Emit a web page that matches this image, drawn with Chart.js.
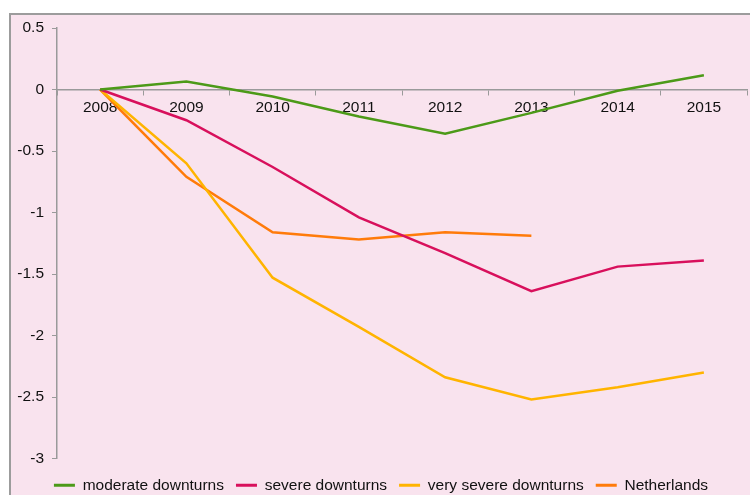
<!DOCTYPE html>
<html>
<head>
<meta charset="utf-8">
<script src="https://cdn.jsdelivr.net/npm/chart.js@4.4.1/dist/chart.umd.min.js"></script>
<style>
    html, body { margin: 0; padding: 0; background: #fff; }
    #frame {
        position: absolute; left: 9px; top: 13px; width: 760px; height: 500px;
        background: #f9e3ee; border-left: 2px solid #9c9c9c; border-top: 2px solid #9c9c9c;
        box-sizing: border-box;
    }
    #wrap { position: absolute; left: 0; top: 0; width: 750px; height: 495px; }
</style>
</head>
<body>
<div id="frame"></div>
<div id="wrap"><canvas id="chart"></canvas></div>
<script>
const years = ['2008', '2009', '2010', '2011', '2012', '2013', '2014', '2015'];

const moderate = [0, 0.065, -0.057, -0.22, -0.36, -0.19, -0.01, 0.115];
const severe = [0, -0.25, -0.63, -1.04, -1.33, -1.64, -1.44, -1.39];
const verySevere = [0, -0.60, -1.53, -1.93, -2.34, -2.52, -2.42, -2.30];
const netherlands = [0, -0.71, -1.16, -1.22, -1.16, -1.19, null, null];

const seriesNames = ['moderate downturns', 'severe downturns', 'very severe downturns', 'Netherlands'];
const seriesColors = ['#4c9a18', '#d8105c', '#ffb400', '#ff7b0a'];

const yMin = -3;
const yMax = 0.5;
const yStep = 0.5;

const axisGrey = '#9a9a9a';
const font = { family: "'Liberation Sans', Arial, sans-serif", size: 15.5 };

function makeSet(i, data) {
    return {
        label: seriesNames[i],
        data: data,
        borderColor: seriesColors[i],
        backgroundColor: seriesColors[i],
        borderWidth: 2.5,
        pointRadius: 0,
        tension: 0,
        spanGaps: false
    };
}

const ctx = document.getElementById('chart');
new Chart(ctx, {
    type: 'line',
    data: {
        labels: years,
        datasets: [
            makeSet(0, moderate),
            makeSet(1, severe),
            makeSet(2, verySevere),
            makeSet(3, netherlands)
        ]
    },
    options: {
        responsive: true,
        maintainAspectRatio: false,
        animation: false,
        layout: { padding: { left: 15, top: 28, right: 3, bottom: -8 } },
        plugins: {
            tooltip: { enabled: false },
            legend: {
                position: 'bottom',
                labels: {
                    font: font,
                    color: '#111',
                    boxWidth: 21,
                    boxHeight: 3,
                    padding: 12,
                    generateLabels: function (chart) {
                        const items = Chart.defaults.plugins.legend.labels.generateLabels(chart);
                        items.forEach(it => { it.lineWidth = 0; });
                        return items;
                    }
                }
            }
        },
        scales: {
            x: {
                type: 'category',
                position: { y: 0 },
                offset: true,
                border: { display: true, color: axisGrey, width: 1.5 },
                grid: { offset: true, drawOnChartArea: false, drawTicks: true, tickLength: 5, color: axisGrey },
                ticks: { font: font, color: '#111', padding: 4, maxRotation: 0 }
            },
            // empty strip between the plot and the legend
            gap: {
                type: 'category',
                position: 'bottom',
                display: true,
                border: { display: false },
                grid: { display: false },
                ticks: { display: false },
                afterFit: function (scale) { scale.height = 7; }
            },
            y: {
                min: yMin,
                max: yMax,
                border: { display: true, color: axisGrey, width: 1.5 },
                grid: { drawOnChartArea: false, drawTicks: true, tickLength: 5, color: axisGrey },
                ticks: {
                    stepSize: yStep,
                    font: font,
                    color: '#111',
                    padding: 8,
                    callback: v => String(v)
                },
                afterFit: function (scale) { scale.width = 42; }
            }
        }
    }
});
</script>
</body>
</html>
